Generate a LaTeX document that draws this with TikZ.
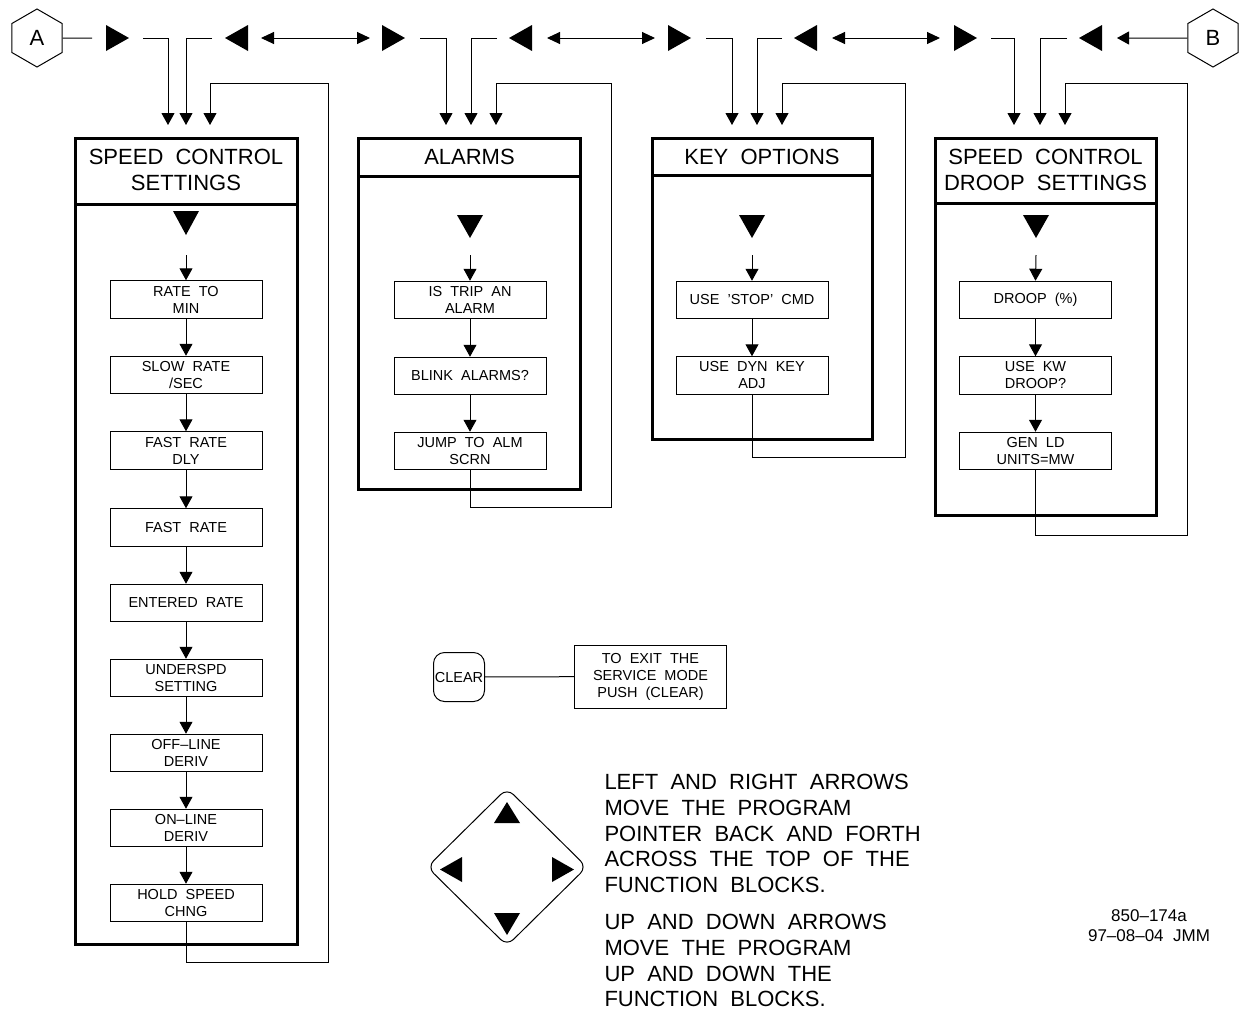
\documentclass[tikz,border=0pt]{standalone}
\usepackage{fontspec}
\setmainfont{Liberation Sans}
\usetikzlibrary{arrows.meta,shapes.geometric}
\newcommand\dgbig{\fontsize{22}{26}\selectfont}
\newcommand\dgtxt{\fontsize{22}{25.6}\selectfont}
\newcommand\dgsmall{\fontsize{14.5}{17}\selectfont}
\begin{document}
\begin{tikzpicture}[x=1pt,y=-1pt,line width=1pt,
  arr/.style={-{Triangle[width=13pt,length=12pt]}},
  darr/.style={{Triangle[width=12pt,length=13pt]}-{Triangle[width=12pt,length=13pt]}},
  outerbox/.style={draw,line width=3pt,inner sep=0pt},
  divider/.style={line width=3pt},
  sbox/.style={draw,line width=1pt,minimum width=152pt,minimum height=37.5pt,inner sep=0pt,align=center,font=\dgsmall},
  title/.style={inner sep=0pt,align=center,font=\dgbig},
  hexa/.style={draw,regular polygon,regular polygon sides=6,shape border rotate=30,minimum size=58pt,inner sep=0pt,font=\dgbig},
]
\useasboundingbox (0,0) rectangle (1250,1010);

% ---------- top row ----------
\node[hexa] (A) at (37,38) {A};
\node[hexa] (B) at (1213,38) {B};
\coordinate (a1) at (92,38);
\draw (A.0) -- (a1);
\coordinate (b1) at (1117,38);
\draw[arr] (B.180) -- (b1);

% pointer triangles
\fill (106,25) -- (129,38) -- (106,51) -- cycle;
\fill (248,25) -- (225,38) -- (248,51) -- cycle;
\fill (382,25) -- (405,38) -- (382,51) -- cycle;
\fill (532,25) -- (509,38) -- (532,51) -- cycle;
\fill (668,25) -- (691,38) -- (668,51) -- cycle;
\fill (817,25) -- (794,38) -- (817,51) -- cycle;
\fill (954,25) -- (977,38) -- (954,51) -- cycle;
\fill (1102,25) -- (1079,38) -- (1102,51) -- cycle;

% double arrows
\coordinate (d1a) at (261,38); \coordinate (d1b) at (370,38);
\coordinate (d2a) at (547,38); \coordinate (d2b) at (655,38);
\coordinate (d3a) at (832,38); \coordinate (d3b) at (940,38);
\draw[darr] (d1a) -- (d1b);
\draw[darr] (d2a) -- (d2b);
\draw[darr] (d3a) -- (d3b);

% entry connectors
\coordinate (p1a) at (143,38);  \coordinate (q1a) at (168,125);
\coordinate (p1b) at (212,38);  \coordinate (q1b) at (186,125);
\coordinate (p2a) at (420,38);  \coordinate (q2a) at (446,125);
\coordinate (p2b) at (497,38);  \coordinate (q2b) at (471,125);
\coordinate (p3a) at (706,38);  \coordinate (q3a) at (732,125);
\coordinate (p3b) at (782,38);  \coordinate (q3b) at (757,125);
\coordinate (p4a) at (991,38);  \coordinate (q4a) at (1014,125);
\coordinate (p4b) at (1067,38); \coordinate (q4b) at (1040,125);
\foreach \i in {1,2,3,4}{
  \draw[arr] (p\i a) -| (q\i a);
  \draw[arr] (p\i b) -| (q\i b);
}

% ---------- column 1 ----------
\node[outerbox,minimum width=222pt,minimum height=806pt] (c1) at (186,541) {};
\draw[divider] (75,204) -- (297,204);
\node[title] (t1) at (186,170) {SPEED\ \ CONTROL\\SETTINGS};
\fill (173,211) -- (199,211) -- (186,235) -- cycle;
\coordinate (e1) at (186,255);
\node[sbox] (s11) at (186,299.5) {RATE\ \ TO\\MIN};
\node[sbox] (s12) at (186,375) {SLOW\ \ RATE\\/SEC};
\node[sbox] (s13) at (186,450.5) {FAST\ \ RATE\\DLY};
\node[sbox] (s14) at (186,527.5) {FAST\ \ RATE};
\node[sbox] (s15) at (186,603) {ENTERED\ \ RATE};
\node[sbox] (s16) at (186,678) {UNDERSPD\\SETTING};
\node[sbox] (s17) at (186,753) {OFF–LINE\\DERIV};
\node[sbox] (s18) at (186,828) {ON–LINE\\DERIV};
\node[sbox] (s19) at (186,903) {HOLD\ \ SPEED\\CHNG};
\draw[arr] (e1) -- (s11.north);
\foreach \a/\b in {s11/s12,s12/s13,s13/s14,s14/s15,s15/s16,s16/s17,s17/s18,s18/s19}
  \draw[arr] (\a.south) -- (\b.north);
\coordinate (f1a) at (328,962); \coordinate (f1b) at (328,83); \coordinate (q1c) at (210,125);
\draw[arr] (s19.south) |- (f1a) -- (f1b) -| (q1c);

% ---------- column 2 ----------
\node[outerbox,minimum width=222pt,minimum height=351pt] (c2) at (469.5,313.5) {};
\draw[divider] (358.5,176) -- (580.5,176);
\node[title] (t2) at (469.5,157) {ALARMS};
\fill (457,215) -- (483,215) -- (470,238) -- cycle;
\coordinate (e2) at (470,255);
\node[sbox] (s21) at (470,300) {IS\ \ TRIP\ \ AN\\ALARM};
\node[sbox] (s22) at (470,376) {BLINK\ \ ALARMS?};
\node[sbox] (s23) at (470,451) {JUMP\ \ TO\ \ ALM\\SCRN};
\draw[arr] (e2) -- (s21.north);
\draw[arr] (s21.south) -- (s22.north);
\draw[arr] (s22.south) -- (s23.north);
\coordinate (f2a) at (611,507); \coordinate (f2b) at (611,83); \coordinate (q2c) at (496,125);
\draw[arr] (s23.south) |- (f2a) -- (f2b) -| (q2c);

% ---------- column 3 ----------
\node[outerbox,minimum width=220pt,minimum height=301pt] (c3) at (762,288.5) {};
\draw[divider] (652,175) -- (872,175);
\node[title] (t3) at (762,157) {KEY\ \ OPTIONS};
\fill (739,215) -- (765,215) -- (752,238) -- cycle;
\coordinate (e3) at (752,255);
\node[sbox] (s31) at (752,300) {USE\ \ 'STOP'\ \ CMD};
\node[sbox] (s32) at (752,375.5) {USE\ \ DYN\ \ KEY\\ADJ};
\draw[arr] (e3) -- (s31.north);
\draw[arr] (s31.south) -- (s32.north);
\coordinate (f3a) at (905,457); \coordinate (f3b) at (905,83); \coordinate (q3c) at (782,125);
\draw[arr] (s32.south) |- (f3a) -- (f3b) -| (q3c);

% ---------- column 4 ----------
\node[outerbox,minimum width=221pt,minimum height=377pt] (c4) at (1045.5,326.5) {};
\draw[divider] (935,203) -- (1156,203);
\node[title] (t4) at (1045.5,170) {SPEED\ \ CONTROL\\DROOP\ \ SETTINGS};
\fill (1023,215) -- (1049,215) -- (1036,238) -- cycle;
\coordinate (e4) at (1036,255);
\node[sbox] (s41) at (1035.5,300) {DROOP\ \ (\%)};
\node[sbox] (s42) at (1035.5,375.5) {USE\ \ KW\\DROOP?};
\node[sbox] (s43) at (1035.5,451) {GEN\ \ LD\\UNITS=MW};
\draw[arr] (e4) -- (s41.north);
\draw[arr] (s41.south) -- (s42.north);
\draw[arr] (s42.south) -- (s43.north);
\coordinate (f4a) at (1187,535); \coordinate (f4b) at (1187,83); \coordinate (q4c) at (1065,125);
\draw[arr] (s43.south) |- (f4a) -- (f4b) -| (q4c);

% ---------- CLEAR ----------
\node[draw,rounded corners=11pt,minimum width=51pt,minimum height=49pt,inner sep=0pt,font=\dgsmall] (clr) at (459,677) {CLEAR};
\node[draw,minimum width=152pt,minimum height=63pt,inner sep=0pt,align=center,font=\dgsmall] (exit) at (650.5,676.5) {TO\ \ EXIT\ \ THE\\SERVICE\ \ MODE\\PUSH\ \ (CLEAR)};
\draw (clr) -- (exit);

% ---------- arrow pad ----------
\node[draw,diamond,rounded corners=9pt,minimum width=160pt,minimum height=158pt,inner sep=0pt] (pad) at (507,867) {};
\fill (494,823) -- (520,823) -- (507,802) -- cycle;
\fill (494,913) -- (520,913) -- (507,935) -- cycle;
\fill (462,857) -- (462,882) -- (440,869.5) -- cycle;
\fill (552,857) -- (552,882) -- (574,869.5) -- cycle;

\node[anchor=north west,inner sep=0pt,align=left,font=\dgtxt] (txt1) at (604,774)
  {LEFT\ \ AND\ \ RIGHT\ \ ARROWS\\MOVE\ \ THE\ \ PROGRAM\\POINTER\ \ BACK\ \ AND\ \ FORTH\\ACROSS\ \ THE\ \ TOP\ \ OF\ \ THE\\FUNCTION\ \ BLOCKS.};
\node[anchor=north west,inner sep=0pt,align=left,font=\dgtxt] (txt2) at (604,914)
  {UP\ \ AND\ \ DOWN\ \ ARROWS\\MOVE\ \ THE\ \ PROGRAM\\UP\ \ AND\ \ DOWN\ \ THE\\FUNCTION\ \ BLOCKS.};

% ---------- drawing id ----------
\node[inner sep=0pt,align=center,font=\fontsize{17}{20}\selectfont] (id) at (1149,926) {850–174a\\97–08–04\ \ JMM};
\end{tikzpicture}
\end{document}
